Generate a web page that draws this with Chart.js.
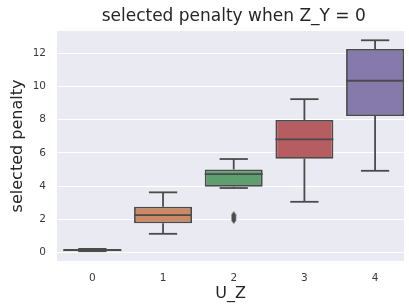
<!DOCTYPE html>
<html><head><meta charset="utf-8">
<script src="https://cdn.jsdelivr.net/npm/chart.js@4.4.0/dist/chart.umd.min.js"></script>
<style>html,body{margin:0;padding:0;background:#fff;overflow:hidden}#wrap{width:409px;height:304px;position:relative}</style>
</head><body><div id="wrap"><canvas id="c"></canvas></div>
<script>
const categories = ['0', '1', '2', '3', '4'];
const q1 = [0.07, 1.75, 3.96, 5.65, 8.22];
const medians = [0.14, 2.25, 4.72, 6.81, 10.35];
const q3 = [0.21, 2.75, 5.0, 7.98, 12.26];
const whiskerLow = [0.07, 1.12, 3.88, 3.05, 4.92];
const whiskerHigh = [0.21, 3.62, 5.63, 9.24, 12.79];
const outliers = [[], [], [1.96, 2.1, 2.24], [], []];
const yTicks = [0, 2, 4, 6, 8, 10, 12];
const titleText = 'selected penalty when Z_Y = 0';
const xTitle = 'U_Z';
const yTitle = 'selected penalty';

const boxColors = ['#5571a5', '#cc8963', '#5f9e6e', '#b55d60', '#857aab'];
const lineColor = '#4b4b4b';
const FONT = 'DejaVu Sans';
Chart.defaults.font.family = FONT;

// thin diamond marker (like matplotlib 'd')
const diamond = document.createElement('canvas');
diamond.width = 6; diamond.height = 8;
(function(){const g = diamond.getContext('2d'); g.fillStyle = lineColor; g.beginPath(); g.moveTo(3,0); g.lineTo(5.6,4); g.lineTo(3,8); g.lineTo(0.4,4); g.closePath(); g.fill();})();

const bgPlugin = {
  id: 'bg',
  beforeDraw(chart) {
    const {ctx, chartArea: a} = chart;
    ctx.save(); ctx.fillStyle = '#eaeaf2';
    ctx.fillRect(a.left, a.top, a.right - a.left, a.bottom - a.top);
    ctx.restore();
  },
  afterDraw(chart) {
    const {ctx} = chart; const xs = chart.scales.x;
    ctx.save(); ctx.fillStyle = '#262626'; ctx.font = '17px "' + FONT + '"';
    ctx.textAlign = 'center'; ctx.textBaseline = 'middle';
    ctx.fillText(titleText, xs.getPixelForValue(2), 17);
    ctx.restore();
  }
};

const whiskerPlugin = {
  id: 'whiskers',
  afterDatasetsDraw(chart) {
    const {ctx} = chart; const xs = chart.scales.x, ys = chart.scales.y;
    ctx.save(); ctx.strokeStyle = lineColor; ctx.lineWidth = 1.8; ctx.lineCap = 'butt';
    categories.forEach((c, i) => {
      const x = xs.getPixelForValue(i);
      const capL = xs.getPixelForValue(i - 0.2), capR = xs.getPixelForValue(i + 0.2);
      const bL = xs.getPixelForValue(i - 0.41), bR = xs.getPixelForValue(i + 0.41);
      const line = (x1, y1, x2, y2) => { ctx.beginPath(); ctx.moveTo(x1, y1); ctx.lineTo(x2, y2); ctx.stroke(); };
      line(x, ys.getPixelForValue(q3[i]), x, ys.getPixelForValue(whiskerHigh[i]));
      line(x, ys.getPixelForValue(q1[i]), x, ys.getPixelForValue(whiskerLow[i]));
      line(capL, ys.getPixelForValue(whiskerHigh[i]), capR, ys.getPixelForValue(whiskerHigh[i]));
      line(capL, ys.getPixelForValue(whiskerLow[i]), capR, ys.getPixelForValue(whiskerLow[i]));
      line(bL, ys.getPixelForValue(medians[i]), bR, ys.getPixelForValue(medians[i]));
    });
    ctx.restore();
  }
};

new Chart(document.getElementById('c'), {
  type: 'bar',
  data: {
    datasets: [
      {
        type: 'bar',
        data: categories.map((c, i) => ({x: i, y: [q1[i], q3[i]]})),
        backgroundColor: boxColors,
        borderColor: lineColor,
        borderWidth: 1.8,
        borderSkipped: false,
        barPercentage: 0.82,
        categoryPercentage: 1,
        grouped: false
      },
      {
        type: 'scatter',
        data: outliers.flatMap((arr, i) => arr.map(v => ({x: i, y: v}))),
        pointStyle: diamond,
        pointRadius: 4
      }
    ]
  },
  options: {
    responsive: true, maintainAspectRatio: false, animation: false,
    layout: {padding: {top: 31, left: 0, right: 0, bottom: 0}},
    plugins: {legend: {display: false}, tooltip: {enabled: false}, title: {display: false}},
    scales: {
      x: {
        type: 'linear', min: -0.5, max: 4.409, offset: false,
        grid: {display: false, drawTicks: false}, border: {display: false},
        afterBuildTicks: s => { s.ticks = categories.map((c, i) => ({value: i})); },
        ticks: {callback: v => categories[v], padding: 11, font: {size: 10.5}, color: '#3a3a3a', maxRotation: 0, autoSkip: false},
        title: {display: true, text: xTitle, font: {size: 16}, color: '#262626', padding: {top: 0, bottom: 0.5}},
        afterFit: s => { s.height = 43; }
      },
      y: {
        min: -0.52, max: 13.35,
        grid: {color: '#ffffff', lineWidth: 1, drawTicks: false}, border: {display: false},
        afterBuildTicks: s => { s.ticks = yTicks.map(v => ({value: v})); },
        ticks: {padding: 11, font: {size: 10.5}, color: '#3a3a3a'},
        title: {display: true, text: yTitle, font: {size: 16}, color: '#262626', padding: {top: 8.4, bottom: 0}},
        afterFit: s => { s.width = 57; }
      }
    }
  },
  plugins: [bgPlugin, whiskerPlugin]
});
</script>
</body></html>
